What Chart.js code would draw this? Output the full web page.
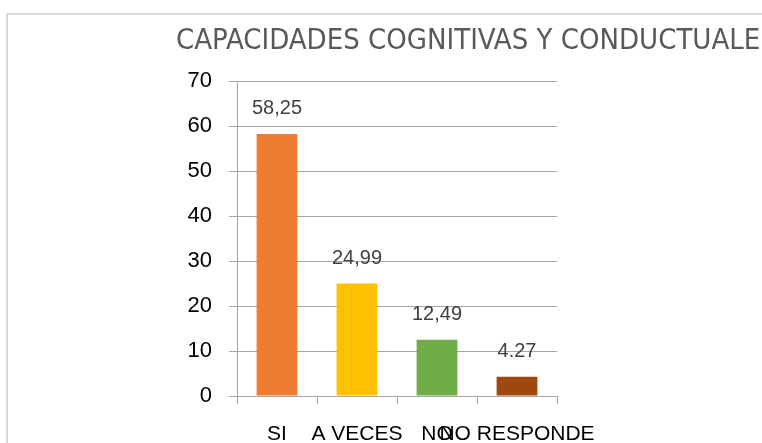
<!DOCTYPE html>
<html>
<head>
<meta charset="utf-8">
<script src="https://cdn.jsdelivr.net/npm/chart.js@4/dist/chart.umd.min.js"></script>
<style>
  html, body { margin: 0; padding: 0; background: #ffffff; overflow: hidden; }
  #wrap { position: relative; width: 762px; height: 443px; }
  #frame { position: absolute; left: 6px; top: 13px; width: 800px; height: 500px;
           border-left: 2px solid #d9d9d9; border-top: 2px solid #d9d9d9; }
  canvas { position: absolute; left: 0; top: 0; }
</style>
</head>
<body>
<div id="wrap">
  <div id="frame"></div>
  <canvas id="c" width="762" height="443"></canvas>
</div>
<script>
const titleText = "CAPACIDADES COGNITIVAS Y CONDUCTUALES";
const categories = ["SI", "A VECES", "NO", "NO RESPONDE"];
const values = [58.25, 24.99, 12.49, 4.27];
const valueLabels = ["58,25", "24,99", "12,49", "4.27"];
const barColors = ["#ED7D31", "#FFC000", "#70AD47", "#9E480E"];
const yMin = 0, yMax = 70, yStep = 10;

const gridColor = "#a6a6a6";

const titlePlugin = {
  id: "customTitle",
  afterDraw(chart) {
    const ctx = chart.ctx;
    ctx.save();
    ctx.font = '29px "Liberation Sans Narrow", "DejaVu Sans Condensed", "Liberation Sans", sans-serif';
    ctx.fillStyle = "#595959";
    ctx.textAlign = "left";
    ctx.textBaseline = "middle";
    ctx.fillText(titleText, chart.chartArea.left - 61, 41);
    ctx.restore();
  }
};

const valueLabelPlugin = {
  id: "valueLabels",
  afterDatasetsDraw(chart) {
    const ctx = chart.ctx;
    const meta = chart.getDatasetMeta(0);
    ctx.save();
    ctx.font = '20px "Liberation Sans", Arial, sans-serif';
    ctx.fillStyle = "#404040";
    ctx.textAlign = "center";
    ctx.textBaseline = "middle";
    meta.data.forEach((bar, i) => {
      ctx.fillText(valueLabels[i], bar.x, bar.y - 25);
    });
    ctx.restore();
  }
};

new Chart(document.getElementById("c"), {
  type: "bar",
  data: {
    labels: categories,
    datasets: [{
      data: values,
      backgroundColor: barColors,
      borderWidth: 0,
      categoryPercentage: 1.0,
      barPercentage: 0.51
    }]
  },
  options: {
    responsive: false,
    animation: false,
    devicePixelRatio: 1,
    layout: { padding: { top: 81, right: 205, bottom: 0, left: 0 } },
    plugins: {
      legend: { display: false },
      title: { display: false },
      tooltip: { enabled: false }
    },
    scales: {
      x: {
        grid: { display: true, drawOnChartArea: false, drawTicks: true, tickLength: 8, color: gridColor, lineWidth: 1 },
        border: { display: true, color: gridColor, width: 1 },
        ticks: {
          color: "#000000",
          font: { family: '"Liberation Sans", Arial, sans-serif', size: 21 },
          padding: 18,
          autoSkip: false,
          maxRotation: 0,
          minRotation: 0
        },
        afterFit(scale) { scale.height = 47; }
      },
      y: {
        min: yMin,
        max: yMax,
        ticks: {
          stepSize: yStep,
          color: "#000000",
          font: { family: '"Liberation Sans", Arial, sans-serif', size: 22 },
          padding: 17
        },
        grid: { color: gridColor, lineWidth: 1, tickLength: 8, drawTicks: true },
        border: { display: true, color: gridColor, width: 1 },
        afterFit(scale) { scale.width = 237; }
      }
    }
  },
  plugins: [titlePlugin, valueLabelPlugin]
});
</script>
</body>
</html>
